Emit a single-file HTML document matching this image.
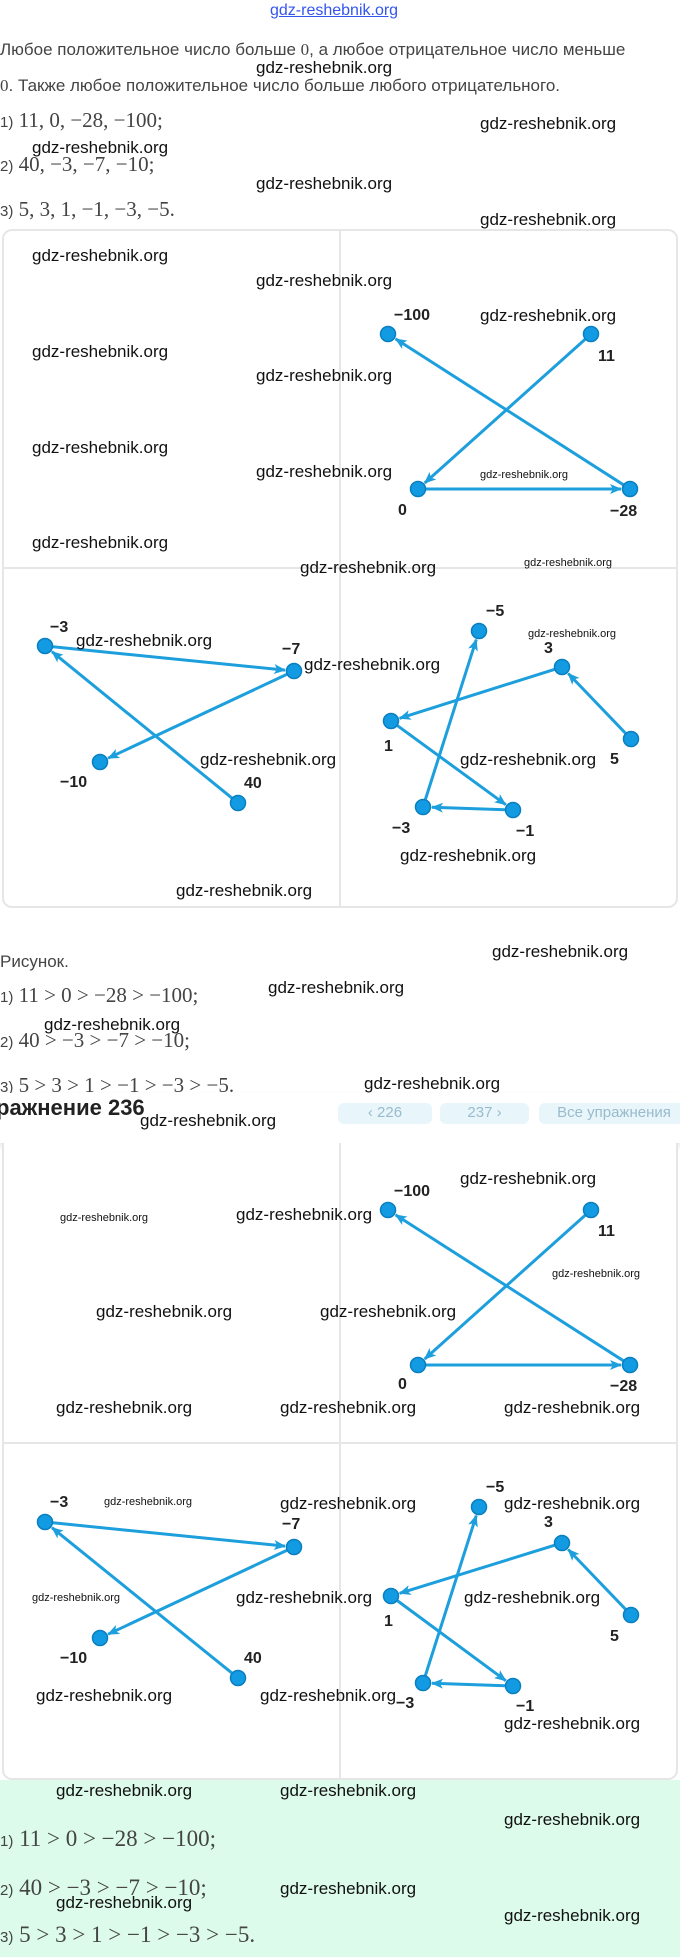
<!DOCTYPE html>
<html><head><meta charset="utf-8">
<style>
body{margin:0;width:680px;height:1957px;position:relative;overflow:hidden;background:#fff;font-family:"Liberation Sans",sans-serif;color:#333}
.a{position:absolute;white-space:nowrap}
.t{font-size:17px;color:#444}
.m{font-family:"Liberation Serif",serif;font-size:21px;color:#444}
.m small{font-family:"Liberation Sans",sans-serif;font-size:15px}
.w{font-size:17px;color:#111;line-height:20px}
.ws{font-size:11px;color:#111;line-height:14px}
.n{font-weight:bold;font-size:16px;color:#222;line-height:18px}
.card{position:absolute;border:2px solid #e6e6e6;border-radius:10px;background:#fff}
.btn{position:absolute;background:#e8f6fb;border-radius:6px;color:#9bc;font-size:15px;text-align:center;line-height:20px;overflow:hidden}
</style></head><body>
<div class="a" style="left:270px;top:2px;font-size:16px;color:#3355ee;text-decoration:underline">gdz-reshebnik.org</div>
<div class="a t" style="left:0;top:40px">Любое положительное число больше <span style="font-family:'Liberation Serif'">0</span>, а любое отрицательное число меньше</div>
<div class="a t" style="left:0;top:76px"><span style="font-family:'Liberation Serif'">0</span>. Также любое положительное число больше любого отрицательного.</div>
<div class="a m" style="left:0;top:108px"><small>1)</small> 11, 0, −28, −100;</div>
<div class="a m" style="left:0;top:152px"><small>2)</small> 40, −3, −7, −10;</div>
<div class="a m" style="left:0;top:197px"><small>3)</small> 5, 3, 1, −1, −3, −5.</div>

<div class="card" style="left:2px;top:229px;width:672px;height:675px"></div>
<div class="a" style="left:339px;top:231px;width:2px;height:675px;background:#e6e6e6"></div>
<div class="a" style="left:4px;top:567px;width:672px;height:2px;background:#e6e6e6"></div>

<div class="a t" style="left:0;top:952px">Рисунок.</div>
<div class="a m" style="left:0;top:983px"><small>1)</small> 11 &gt; 0 &gt; −28 &gt; −100;</div>
<div class="a m" style="left:0;top:1028px"><small>2)</small> 40 &gt; −3 &gt; −7 &gt; −10;</div>
<div class="a m" style="left:0;top:1073px"><small>3)</small> 5 &gt; 3 &gt; 1 &gt; −1 &gt; −3 &gt; −5.</div>

<div class="a" style="left:0;top:1093px;width:680px;height:50px;background:#fff;box-shadow:0 4px 6px rgba(0,0,0,0.12);overflow:hidden">
<div class="a" style="left:-4px;top:2px;font-size:22px;font-weight:bold;color:#222">ражнение 236</div>
<div class="btn" style="left:338px;top:10px;width:94px;height:21px">‹ 226</div>
<div class="btn" style="left:440px;top:10px;width:89px;height:21px">237 ›</div>
<div class="btn" style="left:539px;top:10px;width:150px;height:21px">Все упражнения</div>
</div>

<div class="a" style="left:0;top:1780px;width:680px;height:177px;background:#dcfbea"></div>
<div class="card" style="left:2px;top:1143px;width:672px;height:635px;border-top:none;border-radius:0 0 10px 10px"></div>
<div class="a" style="left:339px;top:1143px;width:2px;height:637px;background:#e6e6e6"></div>
<div class="a" style="left:4px;top:1442px;width:672px;height:2px;background:#e6e6e6"></div>
<div class="a m" style="left:0;top:1826px;font-size:23px"><small>1)</small> 11 &gt; 0 &gt; −28 &gt; −100;</div>
<div class="a m" style="left:0;top:1875px;font-size:23px"><small>2)</small> 40 &gt; −3 &gt; −7 &gt; −10;</div>
<div class="a m" style="left:0;top:1922px;font-size:23px"><small>3)</small> 5 &gt; 3 &gt; 1 &gt; −1 &gt; −3 &gt; −5.</div>

<svg id="s" class="a" style="left:0;top:0" width="680" height="1957"></svg>
<div id="lab"></div>

<script>
var S=document.getElementById('s'),NS='http://www.w3.org/2000/svg';
var defs=document.createElementNS(NS,'defs');
defs.innerHTML='<marker id="ar" viewBox="0 0 12 10" refX="11" refY="5" markerWidth="12" markerHeight="10" markerUnits="userSpaceOnUse" orient="auto"><path d="M0,0 L12,5 L0,10 L3,5 z" fill="#1c9fdc"/></marker>';
S.appendChild(defs);
function line(a,b){var dx=b[0]-a[0],dy=b[1]-a[1],d=Math.hypot(dx,dy),r=8;
var l=document.createElementNS(NS,'line');
l.setAttribute('x1',a[0]+dx/d*r);l.setAttribute('y1',a[1]+dy/d*r);
l.setAttribute('x2',b[0]-dx/d*(r+1));l.setAttribute('y2',b[1]-dy/d*(r+1));
l.setAttribute('stroke','#1c9fdc');l.setAttribute('stroke-width','3');l.setAttribute('marker-end','url(#ar)');S.appendChild(l);}
function dot(p){var c=document.createElementNS(NS,'circle');c.setAttribute('cx',p[0]);c.setAttribute('cy',p[1]);c.setAttribute('r','7.5');c.setAttribute('fill','#129be2');c.setAttribute('stroke','#0a7fc0');c.setAttribute('stroke-width','1.5');S.appendChild(c);}
var H='';
function lab(t,x,y,c){H+='<div class="a '+(c||'n')+'" style="left:'+x+'px;top:'+(y-9)+'px">'+t+'</div>';}
function diag(o){
 var N=o.n;o.e.forEach(function(e){line(N[e[0]],N[e[1]]);});
 for(var k in N){dot(N[k]);}
 o.l.forEach(function(q){lab(q[0],q[1],q[2]);});
}
diag({n:{m100:[388,334],p11:[591,334],z:[418,489],m28:[630,489]},e:[['p11','z'],['z','m28'],['m28','m100']],
 l:[['−100',394,316],['11',598,357],['0',398,511],['−28',610,512]]});
diag({n:{a:[45,646],b:[294,671],c:[100,762],d:[238,803]},e:[['d','a'],['a','b'],['b','c']],
 l:[['−3',50,628],['−7',282,650],['−10',60,783],['40',244,784]]});
diag({n:{m5:[479,631],p3:[562,667],p1:[391,721],p5:[631,739],m3:[423,807],m1:[513,810]},e:[['p5','p3'],['p3','p1'],['p1','m1'],['m1','m3'],['m3','m5']],
 l:[['−5',486,612],['3',544,649],['1',384,747],['5',610,760],['−3',392,829],['−1',516,832]]});
diag({n:{m100:[388,1210],p11:[591,1210],z:[418,1365],m28:[630,1365]},e:[['p11','z'],['z','m28'],['m28','m100']],
 l:[['−100',394,1192],['11',598,1232],['0',398,1385],['−28',610,1387]]});
diag({n:{a:[45,1522],b:[294,1547],c:[100,1638],d:[238,1678]},e:[['d','a'],['a','b'],['b','c']],
 l:[['−3',50,1503],['−7',282,1525],['−10',60,1659],['40',244,1659]]});
diag({n:{m5:[479,1507],p3:[562,1543],p1:[391,1596],p5:[631,1615],m3:[423,1683],m1:[513,1686]},e:[['p5','p3'],['p3','p1'],['p1','m1'],['m1','m3'],['m3','m5']],
 l:[['−5',486,1488],['3',544,1523],['1',384,1622],['5',610,1637],['−3',396,1704],['−1',516,1707]]});
var W=[[256,68],[480,124],[32,148],[256,184],[480,220],[32,256],[256,281],[480,316],[32,352],[256,376],[32,448],[256,472],[32,543],[300,568],
[76,641],[304,665],[200,760],[460,760],[400,856],[176,891],[492,952],[268,988],[44,1025],[364,1084],[140,1121],
[236,1215],[460,1179],[96,1312],[320,1312],[56,1408],[280,1408],[504,1408],[280,1504],[504,1504],[236,1598],[464,1598],[36,1696],[260,1696],[504,1724],
[56,1791],[280,1791],[504,1820],[280,1889],[56,1903],[504,1916]];
W.forEach(function(p){lab('gdz-reshebnik.org',p[0],p[1]-1,'w');});
var WS=[[480,475],[524,563],[528,634],[60,1218],[552,1274],[104,1502],[32,1598]];
WS.forEach(function(p){lab('gdz-reshebnik.org',p[0],p[1]+2,'ws');});
document.getElementById('lab').innerHTML=H;
</script>
</body></html>
